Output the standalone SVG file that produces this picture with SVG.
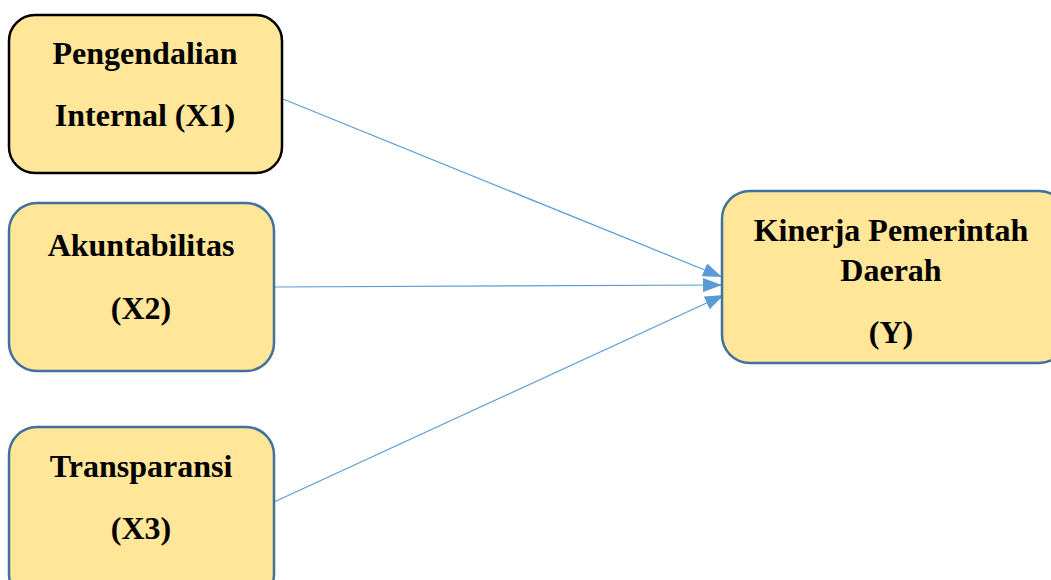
<svg xmlns="http://www.w3.org/2000/svg" width="1051" height="580" viewBox="0 0 1051 580">
<style>
.box{fill:#FFE699;stroke:#41719C;stroke-width:2.5}
.blk{stroke:#000}
text{font-family:"Liberation Serif","Times New Roman",serif;font-weight:bold;font-size:32px;fill:#000;text-anchor:middle}
.conn{stroke:#5B9BD5;stroke-width:1.2;fill:none;marker-end:url(#ah)}
</style>
<defs>
<marker id="ah" markerWidth="19" markerHeight="14" refX="19" refY="7" orient="auto" markerUnits="userSpaceOnUse">
<path d="M0,0 L19,7 L0,14 Z" fill="#5B9BD5"/>
</marker>
</defs>
<rect width="1051" height="580" fill="#fff"/>
<g id="connectors">
<line class="conn" x1="283" y1="99" x2="722" y2="277"/>
<line class="conn" x1="274" y1="287" x2="722" y2="285"/>
<line class="conn" x1="274" y1="502" x2="724" y2="295"/>
</g>
<g id="x1">
<rect class="box blk" x="9" y="15" width="273" height="158" rx="26"/>
<text x="145" y="64">Pengendalian</text>
<text x="145" y="126">Internal (X1)</text>
</g>
<g id="x2">
<rect class="box" x="9" y="203" width="265" height="168" rx="28"/>
<text x="141" y="256">Akuntabilitas</text>
<text x="141" y="319">(X2)</text>
</g>
<g id="x3">
<rect class="box" x="9" y="427" width="265" height="175" rx="28"/>
<text x="141" y="477">Transparansi</text>
<text x="141" y="539">(X3)</text>
</g>
<g id="y">
<rect class="box" x="722" y="191" width="345" height="172" rx="28"/>
<text x="891" y="241">Kinerja Pemerintah</text>
<text x="891" y="281">Daerah</text>
<text x="891" y="343">(Y)</text>
</g>
</svg>
